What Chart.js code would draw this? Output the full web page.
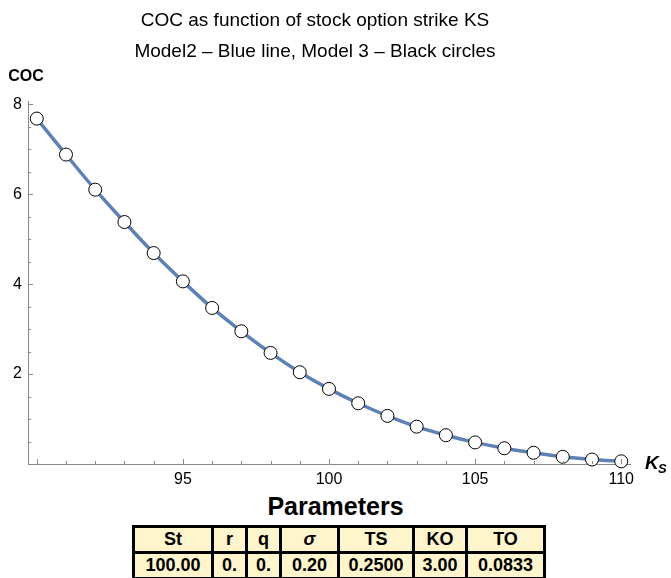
<!DOCTYPE html>
<html>
<head>
<meta charset="utf-8">
<script src="https://cdn.jsdelivr.net/npm/chart.js@4.4.1/dist/chart.umd.min.js"></script>
<style>
body{margin:0;background:#fff;font-family:"Liberation Sans",Arial,sans-serif;}
#wrap{width:671px;}
#chartBox{width:671px;height:490px;position:relative;}
#ptitle{height:32px;line-height:32px;text-align:center;font-weight:bold;font-size:25px;}
table{border-collapse:collapse;table-layout:fixed;margin:3px 0 0 132px;background:#fff5cc;}
td{border:3px solid #000;text-align:center;font-weight:bold;font-size:18px;height:23px;padding:0;line-height:23px;overflow:hidden;}
</style>
</head>
<body>
<div id="wrap">
<div id="chartBox"><canvas id="cocChart"></canvas></div>
<div id="ptitle">Parameters</div>
<table id="params"></table>
</div>
<script>
// strike values and COC
const strikes=[90,91,92,93,94,95,96,97,98,99,100,101,102,103,104,105,106,107,108,109,110];
const model3Coc=[7.68,6.88,6.10,5.38,4.69,4.06,3.47,2.95,2.47,2.04,1.67,1.35,1.07,0.83,0.64,0.48,0.35,0.25,0.16,0.10,0.06];
const model2Coc=[7.68,6.88,6.10,5.38,4.69,4.06,3.47,2.95,2.47,2.04,1.67,1.35,1.07,0.83,0.64,0.48,0.35,0.25,0.16,0.10,0.06];
const xTickLabels=[95,100,105,110];
const yTickLabels=[2,4,6,8];
const paramNames=["St","r","q","σ","TS","KO","TO"];
const paramValues=["100.00","0.","0.","0.20","0.2500","3.00","0.0833"];
const colWidths=[76,31,31,55,72,50,75];

// parameters table
let head="<tr>",vals="<tr>";
paramNames.forEach((n,i)=>{
    let st=n=="σ"?"font-style:italic;":"";
    head+=`<td style="width:${colWidths[i]}px;${st}">${n}</td>`;
    vals+=`<td>${paramValues[i]}</td>`;
});
params.innerHTML=head+"</tr>"+vals+"</tr>";

const font='"Liberation Sans",Arial,sans-serif';

const mmaAxes={
    id:"mmaAxes",
    afterDraw(chart){
        let c=chart.ctx,xs=chart.scales.x,ys=chart.scales.y;
        let y0=ys.getPixelForValue(0),x0=chart.chartArea.left;
        c.save();
        c.strokeStyle="#888";
        c.lineWidth=1;
        c.beginPath();
        for(let k=90;k<=110;k++){
            let px=Math.round(xs.getPixelForValue(k))+0.5;
            let len=k%5==0?5:3;
            c.moveTo(px,y0);c.lineTo(px,y0-len);
        }
        for(let v=0.5;v<=8.01;v+=0.5){
            let py=Math.round(ys.getPixelForValue(v))+0.5;
            let len=v%2==0?5:3;
            c.moveTo(x0,py);c.lineTo(x0+len,py);
        }
        c.stroke();
        c.fillStyle="#000";
        c.font="bold 16px "+font;
        c.textAlign="center";c.textBaseline="middle";
        c.fillText("COC",26,77);
        c.textAlign="left";
        c.font="italic bold 19px "+font;
        c.fillText("K",645,464);
        c.font="italic bold 13px "+font;
        c.fillText("S",658,469);
        c.restore();
    }
};

new Chart(cocChart,{
    type:"scatter",
    data:{
        datasets:[{
            label:"Model 3",
            data:strikes.map((k,i)=>({x:k,y:model3Coc[i]})),
            showLine:false,
            pointRadius:6.5,
            pointBackgroundColor:"#fff",
            pointBorderColor:"#000",
            pointBorderWidth:1,
            clip:false
        },{
            label:"Model 2",
            data:strikes.map((k,i)=>({x:k,y:model2Coc[i]})),
            showLine:true,
            borderColor:"#5e81b5",
            borderWidth:3.5,
            pointRadius:0,
            cubicInterpolationMode:"monotone",
            clip:false
        }]
    },
    options:{
        responsive:true,
        maintainAspectRatio:false,
        animation:false,
        layout:{padding:{left:0,right:41,top:0,bottom:0}},
        plugins:{
            legend:{display:false},
            tooltip:{enabled:false},
            title:{
                display:true,
                text:["COC as function of stock option strike KS","Model2 – Blue line, Model 3 – Black circles"],
                color:"#000",
                font:{family:font,size:19,weight:"normal",lineHeight:1.63},
                padding:{top:5,bottom:35}
            }
        },
        scales:{
            x:{
                type:"linear",min:89.7,max:110.3,
                grid:{display:false,drawTicks:false},
                border:{display:true,color:"#888",width:1},
                afterBuildTicks:s=>{s.ticks=xTickLabels.map(v=>({value:v}));},
                afterFit:s=>{s.height=26;},
                ticks:{color:"#000",padding:6,font:{family:font,size:16},maxRotation:0,autoSkip:false}
            },
            y:{
                type:"linear",min:0,max:8.05,
                grid:{display:false,drawTicks:false},
                border:{display:true,color:"#888",width:1},
                afterBuildTicks:s=>{s.ticks=yTickLabels.map(v=>({value:v}));},
                afterFit:s=>{s.width=28;},
                ticks:{color:"#000",padding:6,font:{family:font,size:16}}
            }
        }
    },
    plugins:[mmaAxes]
});
</script>
</body>
</html>
